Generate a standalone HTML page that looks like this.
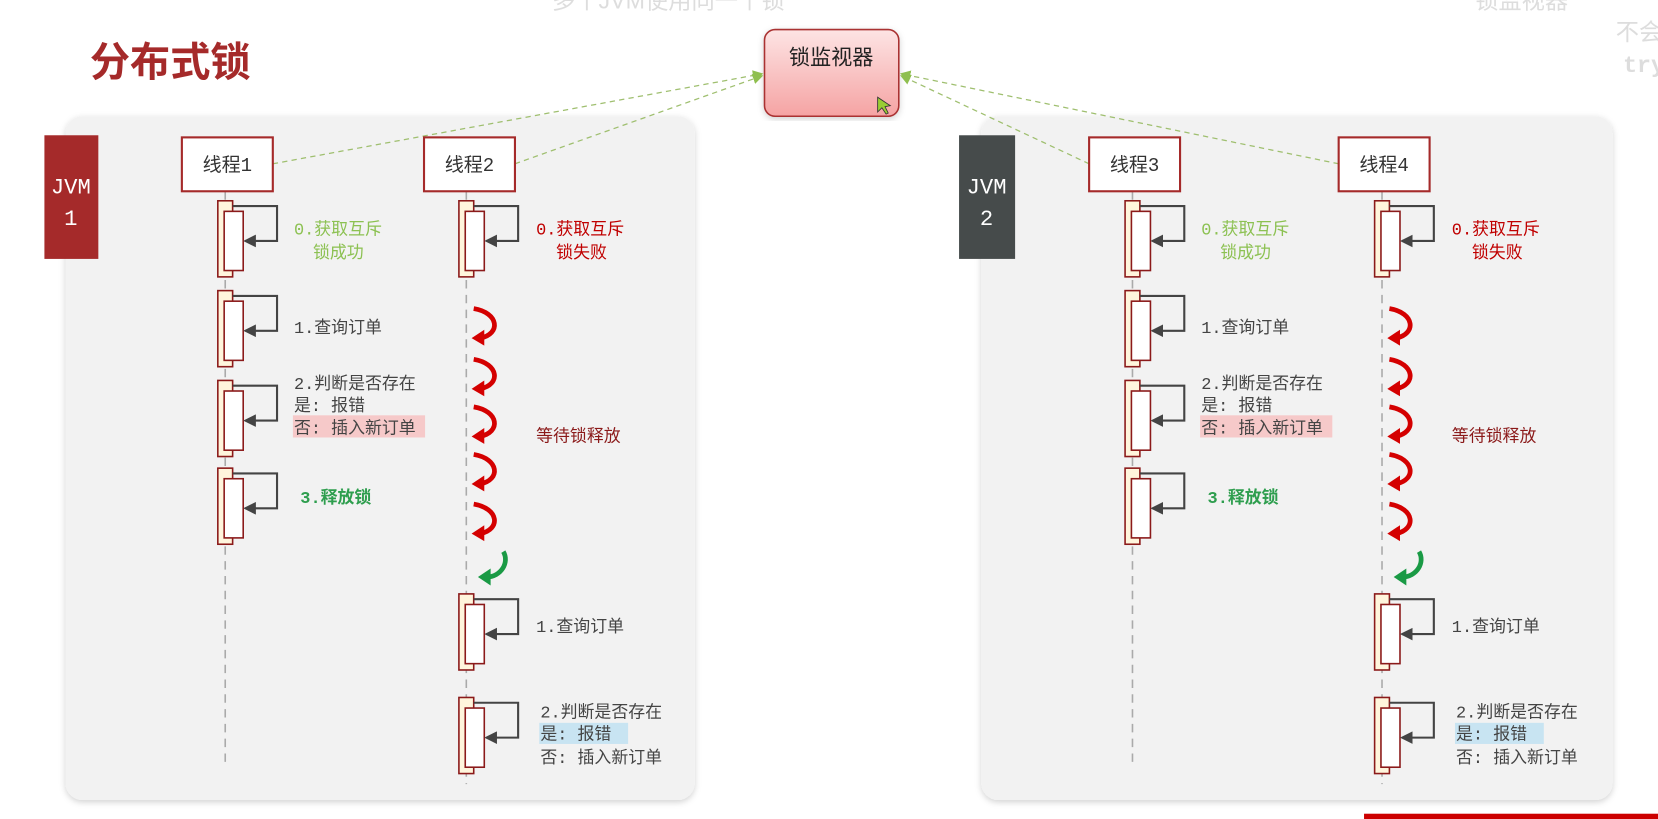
<!DOCTYPE html>
<html><head><meta charset="utf-8"><style>
html,body{margin:0;padding:0;background:#fff;overflow:hidden}
svg{display:block}
text{font-family:"Liberation Mono","Noto Sans CJK SC",monospace}
.cjk{font-family:"Liberation Sans","Noto Sans CJK SC",sans-serif}
</style></head><body>
<svg width="1658" height="819" viewBox="0 0 1568 775" preserveAspectRatio="none" xmlns="http://www.w3.org/2000/svg" font-size="16">
<defs>
<linearGradient id="pk" x1="0" y1="0" x2="0" y2="1"><stop offset="0" stop-color="#fde4e4"/><stop offset="1" stop-color="#f5a3a3"/></linearGradient>
<filter id="sh" x="-5%" y="-5%" width="110%" height="110%"><feDropShadow dx="0" dy="2" stdDeviation="3" flood-color="#000" flood-opacity="0.18"/></filter>
<marker id="ga" markerWidth="10" markerHeight="10" refX="8" refY="5" orient="auto" markerUnits="userSpaceOnUse"><path d="M0,0 L10,5 L0,10 z" fill="#8fbf4f"/></marker>
<marker id="da" markerWidth="12" markerHeight="12" refX="10" refY="6" orient="auto" markerUnits="userSpaceOnUse"><path d="M0,0 L12,6 L0,12 z" fill="#444"/></marker>
<g id="bar"><rect x="0" y="0" width="14" height="72" fill="#fff5dc" stroke="#8b1a1a" stroke-width="1.5"/><rect x="6" y="10" width="18" height="56" fill="#fff" stroke="#8b1a1a" stroke-width="1.5"/><path d="M14,5 H56 V38 H26" fill="none" stroke="#444" stroke-width="2" marker-end="url(#da)"/></g>
<g id="rc"><path d="M-4,0 C20,4 22,24 2,28" fill="none" stroke="#d40000" stroke-width="4.5"/><path d="M-6,28 L6,20 L6,35 z" fill="#d40000"/></g>
<g id="gc"><path d="M20,0 C26,10 18,24 4,24" fill="none" stroke="#1a9a45" stroke-width="4.5"/><path d="M-4,24 L8,16 L8,32 z" fill="#1a9a45"/></g>
</defs>

<text x="522" y="8" fill="#ddd" font-size="22" class="cjk">多个JVM使用同一个锁</text>
<text x="1395" y="8" fill="#ddd" font-size="22" class="cjk">锁监视器</text>
<text x="1528" y="38" fill="#ddd" font-size="22" class="cjk">不会</text>
<text x="1535" y="68" fill="#ddd" font-size="22" font-weight="bold">try</text>

<text x="85" y="72" fill="#a52a2a" font-size="38" font-weight="bold" class="cjk">分布式锁</text>

<rect x="62" y="110" width="595" height="647" rx="16" fill="#f2f2f2" filter="url(#sh)"/>
<rect x="928" y="110" width="597" height="647" rx="16" fill="#f2f2f2" filter="url(#sh)"/>

<rect x="42" y="128" width="51" height="117" fill="#a52a2a"/>
<text x="67" y="183" fill="#fff" font-size="21" text-anchor="middle">JVM</text>
<text x="67" y="213" fill="#fff" font-size="21" text-anchor="middle">1</text>
<rect x="907" y="128" width="53" height="117" fill="#464b4b"/>
<text x="933" y="183" fill="#fff" font-size="21" text-anchor="middle">JVM</text>
<text x="933" y="213" fill="#fff" font-size="21" text-anchor="middle">2</text>

<rect x="723" y="28" width="127" height="82" rx="10" fill="url(#pk)" stroke="#a33" stroke-width="1.5" filter="url(#sh)"/>
<text x="786" y="61" fill="#222" font-size="20" text-anchor="middle" class="cjk">锁监视器</text>
<path d="M830,92 L830,106 L834,102 L838,108 L840,107 L837,101 L842,100 z" fill="#9c3" stroke="#333" stroke-width="0.8"/>

<g stroke="#9fbf6f" stroke-width="1.2" stroke-dasharray="5,4" fill="none">
<path d="M258,155 L720,70" marker-end="url(#ga)"/>
<path d="M487,155 L720,72" marker-end="url(#ga)"/>
<path d="M1030,155 L853,72" marker-end="url(#ga)"/>
<path d="M1266,155 L853,70" marker-end="url(#ga)"/>
</g>

<g stroke="#aaa" stroke-width="1.5" stroke-dasharray="8,6">
<line x1="213" y1="181" x2="213" y2="722"/><line x1="441" y1="181" x2="441" y2="742"/>
<line x1="1071" y1="181" x2="1071" y2="722"/><line x1="1307" y1="181" x2="1307" y2="742"/>
</g>

<g fill="#fff" stroke="#a52a2a" stroke-width="2">
<rect x="172" y="130" width="86" height="51"/><rect x="401" y="130" width="86" height="51"/>
<rect x="1030" y="130" width="86" height="51"/><rect x="1266" y="130" width="86" height="51"/>
</g>
<g fill="#333" font-size="18" text-anchor="middle">
<text x="215" y="162">线程1</text><text x="444" y="162">线程2</text>
<text x="1073" y="162">线程3</text><text x="1309" y="162">线程4</text>
</g>

<g>
<use href="#bar" x="206" y="190"/><use href="#bar" x="206" y="275"/><use href="#bar" x="206" y="360"/><use href="#bar" x="206" y="443"/>
<text x="278" y="222" fill="#8cc152">0.获取互斥</text>
<text x="296" y="244" fill="#8cc152">锁成功</text>
<text x="278" y="315" fill="#444">1.查询订单</text>
<text x="278" y="368" fill="#444">2.判断是否存在</text>
<text x="278" y="389" fill="#444">是: 报错</text>
<rect x="277" y="393" width="125" height="21" fill="#f6c9c9"/>
<text x="278" y="410" fill="#444">否: 插入新订单</text>
<text x="284" y="476" fill="#2e9e4e" font-weight="bold">3.释放锁</text>
</g>
<g transform="translate(858,0)">
<use href="#bar" x="206" y="190"/><use href="#bar" x="206" y="275"/><use href="#bar" x="206" y="360"/><use href="#bar" x="206" y="443"/>
<text x="278" y="222" fill="#8cc152">0.获取互斥</text>
<text x="296" y="244" fill="#8cc152">锁成功</text>
<text x="278" y="315" fill="#444">1.查询订单</text>
<text x="278" y="368" fill="#444">2.判断是否存在</text>
<text x="278" y="389" fill="#444">是: 报错</text>
<rect x="277" y="393" width="125" height="21" fill="#f6c9c9"/>
<text x="278" y="410" fill="#444">否: 插入新订单</text>
<text x="284" y="476" fill="#2e9e4e" font-weight="bold">3.释放锁</text>
</g>

<g>
<use href="#bar" x="434" y="190"/>
<text x="507" y="222" fill="#c00000">0.获取互斥</text>
<text x="526" y="244" fill="#c00000">锁失败</text>
<use href="#rc" x="452" y="292"/><use href="#rc" x="452" y="340"/><use href="#rc" x="452" y="385"/><use href="#rc" x="452" y="430"/><use href="#rc" x="452" y="477"/>
<use href="#gc" x="456" y="522"/>
<text x="507" y="418" fill="#8b1a1a">等待锁释放</text>
<use href="#bar" x="434" y="562"/>
<text x="507" y="598" fill="#444">1.查询订单</text>
<use href="#bar" x="434" y="660"/>
<text x="511" y="679" fill="#444">2.判断是否存在</text>
<rect x="510" y="684" width="84" height="20" fill="#c8e4f2"/>
<text x="511" y="700" fill="#444">是: 报错</text>
<text x="511" y="722" fill="#444">否: 插入新订单</text>
</g>
<g transform="translate(866,0)">
<use href="#bar" x="434" y="190"/>
<text x="507" y="222" fill="#c00000">0.获取互斥</text>
<text x="526" y="244" fill="#c00000">锁失败</text>
<use href="#rc" x="452" y="292"/><use href="#rc" x="452" y="340"/><use href="#rc" x="452" y="385"/><use href="#rc" x="452" y="430"/><use href="#rc" x="452" y="477"/>
<use href="#gc" x="456" y="522"/>
<text x="507" y="418" fill="#8b1a1a">等待锁释放</text>
<use href="#bar" x="434" y="562"/>
<text x="507" y="598" fill="#444">1.查询订单</text>
<use href="#bar" x="434" y="660"/>
<text x="511" y="679" fill="#444">2.判断是否存在</text>
<rect x="510" y="684" width="84" height="20" fill="#c8e4f2"/>
<text x="511" y="700" fill="#444">是: 报错</text>
<text x="511" y="722" fill="#444">否: 插入新订单</text>
</g>
<rect x="1290" y="770" width="278" height="6" fill="#c00"/>
</svg>
</body></html>
